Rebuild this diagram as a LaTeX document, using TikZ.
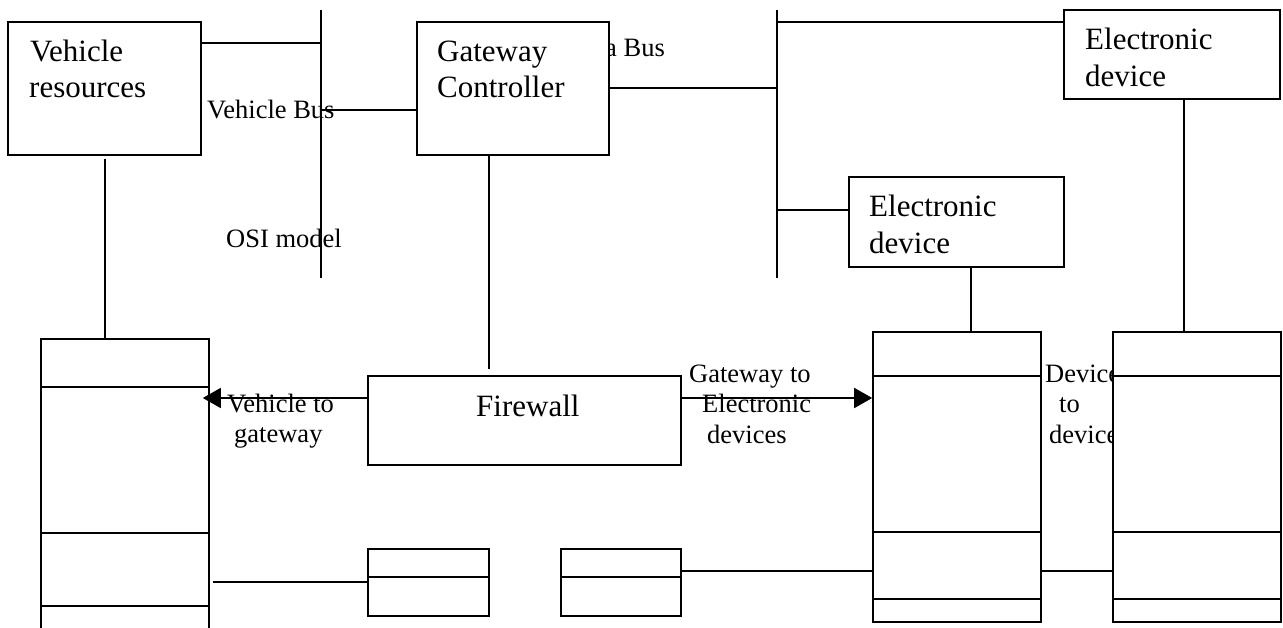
\documentclass[tikz,border=0pt]{standalone}
\usepackage{fontspec}
\setmainfont{Liberation Serif}
\usetikzlibrary{arrows.meta}
\begin{document}
\begin{tikzpicture}[x=1pt,y=-1pt,
  box/.style={draw, line width=1.6pt, fill=white, inner sep=0pt},
  big/.style={font=\fontsize{31}{36}\selectfont, inner sep=0pt, anchor=base west},
  small/.style={font=\fontsize{26.5}{30}\selectfont, inner sep=0pt, anchor=base west},
  wire/.style={line width=1.6pt},
  arr/.style={wire, -{Triangle[length=18pt,width=20pt]}}]
\clip (0,0) rectangle (1283,628);
\fill[white] (0,0) rectangle (1283,628);

% free labels (drawn first so lines and boxes lie over them)
\node[small] (lvb) at (207,119) {Vehicle Bus};
\node[small] (losi) at (226,248) {OSI model};
\node[small, anchor=base east] (ldb) at (665,57) {Data Bus};
\node[small] (lvt1) at (227,412) {Vehicle to};
\node[small] (lvt2) at (234,442) {gateway};
\node[small] (lge1) at (689,382) {Gateway to};
\node[small] (lge2) at (702,413) {Electronic};
\node[small] (lge3) at (707,443) {devices};
\node[small] (ldd1) at (1045,382) {Device};
\node[small] (ldd2) at (1059,412) {to};
\node[small] (ldd3) at (1049,443) {device};

% boxes
\node[box, minimum width=193pt, minimum height=133pt] (vr) at (104.5,88.5) {};
\node[box, minimum width=192pt, minimum height=133pt] (gw) at (513,88.5) {};
\node[box, minimum width=216pt, minimum height=89pt] (ed1) at (1172,54.5) {};
\node[box, minimum width=215pt, minimum height=90pt] (ed2) at (956.5,222) {};
\node[box, minimum width=313pt, minimum height=89pt] (fw) at (524.5,420.5) {};
\node[box, minimum width=121pt, minimum height=67pt] (sb1) at (428.5,582.5) {};
\node[box, minimum width=120pt, minimum height=67pt] (sb2) at (621,582.5) {};
\node[box, minimum width=168pt, minimum height=301pt] (ls) at (125,489.5) {};
\node[box, minimum width=168pt, minimum height=290pt] (s1) at (957,477) {};
\node[box, minimum width=168pt, minimum height=290pt] (s2) at (1197,477) {};

% box texts
\node[big] (tvr1) at (30,62) {Vehicle};
\node[big] (tvr2) at (29,98) {resources};
\node[big] (tgw1) at (437,62) {Gateway};
\node[big] (tgw2) at (437,98) {Controller};
\node[big] (ted11) at (1085,50) {Electronic};
\node[big] (ted12) at (1085,87) {device};
\node[big] (ted21) at (869,217) {Electronic};
\node[big] (ted22) at (869,254) {device};
\node[big] (tfw) at (476,417) {Firewall};

% helper coordinates
\coordinate (b1t) at (321,10);
\coordinate (b1b) at (321,278);
\coordinate (b2t) at (777,10);
\coordinate (b2b) at (777,278);
\coordinate (bA) at (321,43);
\coordinate (bB) at (321,110);
\coordinate (bC) at (777,88);
\coordinate (bD) at (777,22);
\coordinate (bE) at (777,210);
\coordinate (xv) at (105,0);
\coordinate (xg) at (489,0);
\coordinate (xd2) at (971,0);
\coordinate (xd1) at (1184,0);
\coordinate (ya) at (0,398);
\coordinate (yl) at (0,571);
\coordinate (yb) at (0,582);

% stack dividers
\foreach \yy in {387,533,606} \draw[wire] (ls.west |- 0,\yy) -- (ls.east |- 0,\yy);
\foreach \yy in {376,532,599} {
  \draw[wire] (s1.west |- 0,\yy) -- (s1.east |- 0,\yy);
  \draw[wire] (s2.west |- 0,\yy) -- (s2.east |- 0,\yy);
}
\draw[wire] (sb1.west |- 0,577) -- (sb1.east |- 0,577);
\draw[wire] (sb2.west |- 0,577) -- (sb2.east |- 0,577);

% buses
\draw[wire] (b1t) -- (b1b);
\draw[wire] (b2t) -- (b2b);

% connectors
\draw[wire] (vr.east |- bA) -- (bA);
\draw[wire] (bB) -- (gw.west |- bB);
\draw[wire] (gw.east |- bC) -- (bC);
\draw[wire] (bD) -- (ed1.west |- bD);
\draw[wire] (bE) -- (ed2.west |- bE);
\draw[wire] ([yshift=-3pt]vr.south -| xv) -- (ls.north -| xv);
\draw[wire] (gw.south -| xg) -- ([yshift=6pt]fw.north -| xg);
\draw[wire] (ed2.south -| xd2) -- (s1.north -| xd2);
\draw[wire] (ed1.south -| xd1) -- (s2.north -| xd1);
\draw[arr] (fw.west |- ya) -- ([xshift=-7pt]ls.east |- ya);
\draw[arr] (fw.east |- ya) -- (s1.west |- ya);
\draw[wire] ([xshift=3pt]ls.east |- yb) -- (sb1.west |- yb);
\draw[wire] (sb2.east |- yl) -- (s1.west |- yl);
\draw[wire] (s1.east |- yl) -- (s2.west |- yl);
\end{tikzpicture}
\end{document}
